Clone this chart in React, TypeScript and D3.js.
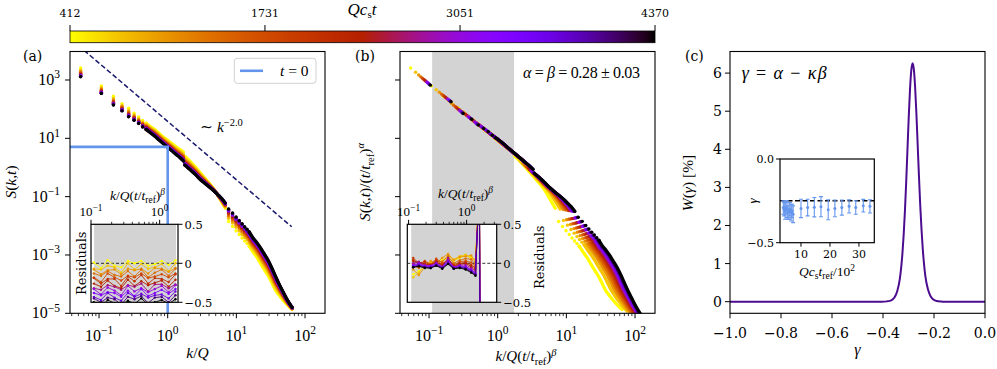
import React from "react";
import * as d3 from "d3";

const SERIF = "'DejaVu Serif', serif";
const MATH = "'Liberation Serif', 'DejaVu Serif', serif";

// ---------------- data ----------------
const times = [412, 742, 1072, 1401, 1731, 2061, 2391, 2721, 3051, 3380, 3710, 4040, 4370];
const colorbarTicks = [412, 1731, 3051, 4370];
const alphaExp = 0.28;
const betaExp = 0.28;
const tRef = 412;

// panel (a): log10 S(k,t) of earliest (yellow) and latest (black) snapshot
const kCols1 = [0.054, 0.108, 0.162, 0.216, 0.27, 0.324, 0.378, 0.432, 0.486];
const logSCols1Early = [3.41, 2.8, 2.44, 2.19, 2.03, 1.86, 1.73, 1.61, 1.52];
const logSCols1Late = [3.11, 2.54, 2.14, 1.94, 1.74, 1.62, 1.51, 1.39, 1.3];

const kBandA = [0.486, 0.54, 0.65, 0.75, 0.87, 1.0, 1.15, 1.3, 1.5, 1.7];
const logSBandAEarly = [1.52, 1.43, 1.3, 1.17, 1.04, 0.93, 0.82, 0.72, 0.62, 0.52];
const logSBandALate = [1.3, 1.22, 1.07, 0.94, 0.81, 0.69, 0.57, 0.46, 0.34, 0.22];

const kCols2 = [1.78, 1.86];
const logSCols2Early = [0.38, 0.34];
const logSCols2Late = [0.08, 0.04];

const kBandB = [1.94, 2.2, 2.5, 2.88, 3.3, 3.8, 4.3, 4.8, 5.3, 5.8, 6.3, 6.9];
const logSBandBEarly = [0.3, 0.17, 0.03, -0.14, -0.3, -0.47, -0.62, -0.77, -0.93, -1.09, -1.24, -1.4];
const logSBandBLate = [0.0, -0.11, -0.23, -0.38, -0.5, -0.62, -0.72, -0.82, -0.92, -1.01, -1.1, -1.22];

const kCols3 = [7.7, 8.8, 9.9, 11.0, 12.1, 13.2, 14.3, 15.4];
const logSCols3Early = [-1.85, -2.02, -2.17, -2.3, -2.42, -2.52, -2.61, -2.7];
const logSCols3Late = [-1.42, -1.56, -1.7, -1.82, -1.93, -2.03, -2.12, -2.21];

const kBandC = [15.4, 17.3, 19.5, 22, 25, 28.5, 32.5, 37, 42, 48, 54, 60, 65];
const logSBandCEarly = [-2.7, -2.88, -3.05, -3.25, -3.47, -3.68, -3.93, -4.2, -4.38, -4.55, -4.69, -4.8, -4.87];
const logSBandCLate = [-2.21, -2.4, -2.55, -2.72, -2.93, -3.15, -3.42, -3.72, -4.0, -4.27, -4.5, -4.68, -4.8];

// t = 0 initial spectrum and k^-2 guide
const t0K = [0.01, 1.0, 1.0];
const t0S = [5.1, 5.1, 1e-7];
const guideK = [0.05, 64];
const guideS = [15200, 0.00928];

// inset (a) residuals
const resXA = [0.11, 0.14, 0.175, 0.22, 0.275, 0.345, 0.43, 0.54, 0.68, 0.85, 1.07, 1.35, 1.7];
const resA = [
  [0.01, -0.06, 0.04, -0.03, -0.05, 0.03, 0.0, 0.03, -0.03, -0.01, 0.03, -0.02, 0.04],
  [-0.07, -0.08, -0.03, -0.05, -0.12, 0.0, -0.08, -0.01, -0.07, -0.05, -0.01, -0.1, 0.0],
  [-0.08, -0.14, -0.09, -0.08, -0.14, -0.07, -0.09, -0.07, -0.13, -0.06, -0.07, -0.11, -0.06],
  [-0.13, -0.16, -0.1, -0.15, -0.17, -0.1, -0.17, -0.08, -0.18, -0.12, -0.08, -0.16, -0.07],
  [-0.18, -0.24, -0.13, -0.18, -0.22, -0.16, -0.18, -0.13, -0.19, -0.17, -0.14, -0.18, -0.13],
  [-0.19, -0.26, -0.2, -0.2, -0.29, -0.17, -0.23, -0.15, -0.26, -0.19, -0.2, -0.24, -0.14],
  [-0.26, -0.3, -0.22, -0.29, -0.32, -0.21, -0.29, -0.23, -0.28, -0.25, -0.22, -0.3, -0.21],
  [-0.32, -0.34, -0.28, -0.3, -0.34, -0.28, -0.3, -0.26, -0.36, -0.27, -0.27, -0.32, -0.27],
  [-0.33, -0.4, -0.31, -0.35, -0.41, -0.29, -0.36, -0.32, -0.37, -0.33, -0.29, -0.37, -0.28],
  [-0.38, -0.41, -0.37, -0.38, -0.43, -0.35, -0.42, -0.33, -0.42, -0.38, -0.34, -0.39, -0.33],
  [-0.43, -0.47, -0.38, -0.44, -0.48, -0.38, -0.43, -0.39, -0.44, -0.41, -0.4, -0.45, -0.36],
  [-0.45, -0.5, -0.44, -0.46, -0.53, -0.43, -0.46, -0.42, -0.51, -0.44, -0.43, -0.5, -0.41],
  [-0.5, -0.56, -0.47, -0.51, -0.54, -0.48, -0.52, -0.45, -0.53, -0.5, -0.47, -0.52, -0.46],
];

// inset (b) residuals
const resXB = [0.12, 0.15, 0.19, 0.24, 0.3, 0.38, 0.48, 0.6, 0.76, 0.96, 1.2, 1.42, 1.66, 1.7];
const resB: (number | null)[][] = [
  [-0.14, -0.1, -0.04, 0.01, -0.02, 0.04, 0.06, 0.03, 0.07, 0.1, 0.08, 0.03, 1.0, -1.0],
  [-0.18, -0.12, -0.02, 0.0, 0.02, 0.03, 0.1, 0.05, 0.09, 0.11, 0.06, 0.05, 1.0, -1.0],
  [-0.08, -0.15, -0.05, 0.03, 0.0, 0.07, 0.12, 0.04, 0.08, 0.09, 0.1, 0.02, 1.0, -1.0],
  [-0.03, -0.06, 0.01, -0.02, 0.03, 0.02, 0.09, 0.0, 0.04, 0.06, 0.05, -0.01, 1.0, -1.0],
  [0.05, -0.02, 0.03, -0.01, 0.06, 0.0, 0.04, -0.02, 0.02, 0.03, 0.01, -0.04, 1.0, -1.0],
  [0.07, 0.0, 0.02, -0.03, 0.04, -0.02, 0.05, -0.03, 0.0, 0.01, -0.02, -0.06, 1.0, -1.0],
  [0.03, 0.01, -0.01, -0.02, 0.02, -0.03, 0.06, -0.04, -0.01, 0.0, -0.04, -0.08, 1.0, -1.0],
  [0.0, 0.02, -0.02, -0.04, 0.01, -0.04, 0.07, -0.05, -0.02, -0.02, -0.06, -0.1, 1.0, -1.0],
  [-0.02, 0.0, -0.03, -0.03, 0.0, -0.05, 0.04, -0.05, -0.03, -0.04, -0.08, -0.12, 1.0, -1.0],
  [-0.03, -0.01, -0.04, -0.04, -0.01, -0.05, 0.02, -0.06, -0.04, -0.05, -0.09, -0.13, 1.0, -1.0],
  [-0.04, -0.02, -0.05, -0.05, -0.02, -0.06, 0.01, -0.06, -0.05, -0.06, -0.1, -0.14, 1.0, -1.0],
  [-0.05, -0.03, -0.05, -0.06, -0.03, -0.06, 0.0, -0.07, -0.05, -0.07, -0.11, -0.15, 1.0, -1.0],
  [-0.05, -0.04, -0.06, -0.06, -0.03, -0.07, -0.01, -0.07, -0.06, -0.08, -0.12, -0.16, null, null],
];
const fitSpan = [0.111, 1.73];

// panel (c): W(gamma) in %
const gammaVals = [-1.0, -0.45, -0.404, -0.384, -0.374, -0.364, -0.354, -0.344, -0.334, -0.329, -0.324, -0.319, -0.314, -0.309, -0.304, -0.299, -0.294, -0.289, -0.284, -0.279, -0.274, -0.269, -0.264, -0.259, -0.254, -0.249, -0.244, -0.239, -0.234, -0.224, -0.214, -0.204, -0.194, -0.184, -0.164, 0.0];
const wVals = [0, 0, 0, 0.008, 0.02, 0.05, 0.12, 0.28, 0.6, 0.88, 1.25, 1.75, 2.38, 3.15, 4.0, 4.85, 5.58, 6.08, 6.26, 6.1, 5.63, 4.93, 4.12, 3.3, 2.53, 1.9, 1.38, 0.98, 0.68, 0.33, 0.15, 0.065, 0.027, 0.01, 0, 0];

// inset (c): gamma vs t_ref
const gRefT = [3.9, 4.2, 4.5, 4.8, 5.2, 5.5, 5.9, 6.2, 6.6, 6.9, 7.3, 10.0, 12.3, 14.6, 16.9, 19.4, 21.7, 24.1, 26.6, 28.9, 31.5, 33.8];
const gMean = [-0.29, -0.3, -0.31, -0.29, -0.3, -0.32, -0.31, -0.3, -0.32, -0.31, -0.33, -0.295, -0.29, -0.288, -0.285, -0.303, -0.295, -0.29, -0.283, -0.29, -0.279, -0.283];
const gErr = [0.04, 0.04, 0.05, 0.04, 0.05, 0.04, 0.05, 0.04, 0.05, 0.04, 0.05, 0.055, 0.05, 0.058, 0.06, 0.06, 0.05, 0.045, 0.04, 0.04, 0.038, 0.04];
const gLine = -0.25;

// ---------------- helpers ----------------
function gnuplotR(f: number) {
  const u = 1 - Math.max(0, Math.min(1, f));
  const r = Math.sqrt(u), g = u * u * u, b = Math.max(0, Math.sin(2 * Math.PI * u));
  return d3.rgb(r * 255, g * 255, b * 255).formatHex();
}
const tMin = colorbarTicks[0];
const tMax = colorbarTicks[colorbarTicks.length - 1];
const colorOf = (t: number) => gnuplotR((t - tMin) / (tMax - tMin));

const minus = (s: string) => s.replace("-", "\u2212");

function pow10(e: number, fs: number) {
  return [
    <tspan key="b">10</tspan>,
    <tspan key="e" dy={-fs * 0.42} fontSize={fs * 0.72}>{e < 0 ? `\u2212${-e}` : `${e}`}</tspan>,
  ];
}

const segments = [
  { k: kCols1, early: logSCols1Early, late: logSCols1Late, mode: "dots" },
  { k: kBandA, early: logSBandAEarly, late: logSBandALate, mode: "line" },
  { k: kCols2, early: logSCols2Early, late: logSCols2Late, mode: "dots" },
  { k: kBandB, early: logSBandBEarly, late: logSBandBLate, mode: "line" },
  { k: kCols3, early: logSCols3Early, late: logSCols3Late, mode: "dots" },
  { k: kBandC, early: logSBandCEarly, late: logSBandCLate, mode: "line" },
];

const series = times.map((t) => ({
  t,
  w: Math.log(t / tRef) / Math.log(tMax / tRef),
  color: colorOf(t),
  kf: Math.pow(t / tRef, betaExp),
  sf: Math.pow(t / tRef, alphaExp),
}));

// ---------------- layout ----------------
const TOP = 51.5, BOTTOM = 313.3;
const AL = 70, AR = 325, BL = 400, BR = 655, CL = 730, CR = 985;
const IA = { l: 91, r: 178, t: 224.3, b: 302.3 };
const IB = { l: 407.3, r: 496.7, t: 224.3, b: 302.3 };
const IC = { l: 780, r: 874.3, t: 159, b: 242.7 };

export default function App() {
  const xDom = [Math.pow(10, -1.423), Math.pow(10, 2.291)];
  const xa = d3.scaleLog().domain(xDom).range([AL, AR]);
  const xb = d3.scaleLog().domain(xDom).range([BL, BR]);
  const yS = d3.scaleLog().domain([1e-5, Math.pow(10, 3.977)]).range([BOTTOM, TOP]);
  const xc = d3.scaleLinear().domain([-1, 0]).range([CL, CR]);
  const yc = d3.scaleLinear().domain([-0.305, 6.567]).range([BOTTOM, TOP]);

  const xia = d3.scaleLog().domain([0.1, 1.85]).range([IA.l, IA.r]);
  const xib = d3.scaleLog().domain([0.095, 3.3]).range([IB.l, IB.r]);
  const yiR = d3.scaleLinear().domain([-0.5, 0.5]).range([IA.b, IA.t]);
  const xic = d3.scaleLinear().domain([2.76, 35.3]).range([IC.l, IC.r]);
  const yic = d3.scaleLinear().domain([-0.5, 0]).range([IC.b, IC.t]);

  const dataPanel = (xs: any, scaled: boolean, pfx: string) =>
    series.map((s, i) => (
      <g key={`${pfx}${i}`}>
        {segments.map((seg, si) => {
          const pts = seg.k.map((k, j) => {
            const logS = (1 - s.w) * seg.early[j] + s.w * seg.late[j];
            const S = Math.pow(10, logS);
            return scaled ? [k * s.kf, S / s.sf] : [k, S];
          });
          if (seg.mode === "dots") {
            return (
              <g key={si}>
                {pts.map((p, j) => (
                  <circle key={j} cx={xs(p[0])} cy={yS(p[1])} r={1.7} fill={s.color} />
                ))}
              </g>
            );
          }
          const ln = d3.line<number[]>().x((p) => xs(p[0])).y((p) => yS(p[1])).curve(d3.curveMonotoneX);
          return <path key={si} d={ln(pts) || ""} stroke={s.color} strokeWidth={3.2} fill="none" strokeLinecap="round" />;
        })}
      </g>
    ));

  // log axis ticks
  const majorX = [-1, 0, 1, 2];
  const minorX: number[] = [];
  [-2, -1, 0, 1].forEach((e) => {
    for (let m = 2; m <= 9; m++) {
      const v = m * Math.pow(10, e);
      if (v >= xDom[0] && v <= xDom[1]) minorX.push(v);
    }
  });
  const majorY = [-5, -3, -1, 1, 3];

  const bottomLogAxis = (xs: any, pfx: string) => (
    <g key={pfx}>
      {minorX.map((v, i) => (
        <line key={`m${i}`} x1={xs(v)} x2={xs(v)} y1={BOTTOM} y2={BOTTOM + 2.8} stroke="#000" strokeWidth={0.8} />
      ))}
      {majorX.map((e) => (
        <g key={e}>
          <line x1={xs(Math.pow(10, e))} x2={xs(Math.pow(10, e))} y1={BOTTOM} y2={BOTTOM + 5} stroke="#000" strokeWidth={1} />
          <text x={xs(Math.pow(10, e))} y={340.5} textAnchor="middle" fontFamily={MATH} fontSize={16}>
            {pow10(e, 16)}
          </text>
        </g>
      ))}
    </g>
  );

  const leftLogAxis = (x0: number, labels: boolean, pfx: string) => (
    <g key={pfx}>
      {majorY.map((e) => (
        <g key={e}>
          <line x1={x0 - 5} x2={x0} y1={yS(Math.pow(10, e))} y2={yS(Math.pow(10, e))} stroke="#000" strokeWidth={1} />
          {labels && (
            <text x={x0 - 10} y={yS(Math.pow(10, e)) + 5} textAnchor="end" fontFamily={MATH} fontSize={16}>
              {pow10(e, 16)}
            </text>
          )}
        </g>
      ))}
    </g>
  );

  const insetTopAxis = (xs: any, ytop: number, pfx: string) => {
    const [d0, d1] = xs.domain();
    const minors: number[] = [];
    [-1, 0].forEach((e) => {
      for (let m = 2; m <= 9; m++) {
        const v = m * Math.pow(10, e);
        if (v >= d0 && v <= d1) minors.push(v);
      }
    });
    return (
      <g key={pfx}>
        {minors.map((v, i) => (
          <line key={i} x1={xs(v)} x2={xs(v)} y1={ytop} y2={ytop - 2.5} stroke="#000" strokeWidth={0.8} />
        ))}
        {[-1, 0].map((e) => (
          <g key={e}>
            <line x1={xs(Math.pow(10, e))} x2={xs(Math.pow(10, e))} y1={ytop} y2={ytop - 4.5} stroke="#000" strokeWidth={1} />
            <text x={xs(Math.pow(10, e))} y={ytop - 8} textAnchor="middle" fontFamily={MATH} fontSize={13}>
              {pow10(e, 13)}
            </text>
          </g>
        ))}
      </g>
    );
  };

  const insetRightAxis = (r: number, pfx: string) => (
    <g key={pfx}>
      {[0.5, 0, -0.5].map((v) => (
        <g key={v}>
          <line x1={r} x2={r + 4.5} y1={yiR(v)} y2={yiR(v)} stroke="#000" strokeWidth={1} />
          <text x={r + 6.5} y={yiR(v) + 4.2} fontFamily={SERIF} fontSize={11.5}>
            {v === 0 ? "0" : minus(String(v))}
          </text>
        </g>
      ))}
    </g>
  );

  const refLabel = (fs: number) => [
    <tspan key="1" fontStyle="italic">k</tspan>,
    <tspan key="2">/</tspan>,
    <tspan key="3" fontStyle="italic">Q</tspan>,
    <tspan key="4">(</tspan>,
    <tspan key="5" fontStyle="italic">t</tspan>,
    <tspan key="6">/</tspan>,
    <tspan key="7" fontStyle="italic">t</tspan>,
    <tspan key="8" dy={fs * 0.25} fontSize={fs * 0.7}>ref</tspan>,
    <tspan key="9" dy={-fs * 0.25}>)</tspan>,
    <tspan key="10" dy={-fs * 0.36} fontSize={fs * 0.7} fontStyle="italic">β</tspan>,
  ];

  const residualLines = (xs: any, xsVals: number[], rows: (number | null)[][], pfx: string) =>
    rows.map((row, i) => {
      const pts = xsVals.map((x, j) => [x, row[j]]).filter((p) => p[1] !== null) as number[][];
      const ln = d3.line<number[]>().x((p) => xs(p[0])).y((p) => yiR(p[1]));
      return (
        <g key={`${pfx}${i}`}>
          <path d={ln(pts) || ""} stroke={series[i].color} strokeWidth={0.9} fill="none" />
          {pts.map((p, j) => (
            <circle key={j} cx={xs(p[0])} cy={yiR(p[1])} r={1.2} fill={series[i].color} />
          ))}
        </g>
      );
    });

  const curveC = d3
    .line<number>()
    .x((_, i) => xc(gammaVals[i]))
    .y((w) => yc(w))
    .curve(d3.curveMonotoneX);

  const cbScale = d3.scaleLinear().domain([tMin, tMax]).range([AL, BR]);
  const gradStops = d3.range(0, 61).map((i) => i / 60);

  return (
    <svg width={997} height={369} style={{ position: "absolute", left: 0, top: 0, background: "#fff" }} fontFamily={SERIF}>
      <defs>
        <linearGradient id="cbGrad" x1="0" x2="1" y1="0" y2="0">
          {gradStops.map((f, i) => (
            <stop key={i} offset={f} stopColor={gnuplotR(f)} />
          ))}
        </linearGradient>
        <clipPath id="clipA"><rect x={AL} y={TOP} width={AR - AL} height={BOTTOM - TOP} /></clipPath>
        <clipPath id="clipB"><rect x={BL} y={TOP} width={BR - BL} height={BOTTOM - TOP} /></clipPath>
        <clipPath id="clipC"><rect x={CL} y={TOP} width={CR - CL} height={BOTTOM - TOP} /></clipPath>
        <clipPath id="clipIA"><rect x={IA.l} y={IA.t} width={IA.r - IA.l} height={IA.b - IA.t} /></clipPath>
        <clipPath id="clipIB"><rect x={IB.l} y={IB.t} width={IB.r - IB.l} height={IB.b - IB.t} /></clipPath>
        <clipPath id="clipIC"><rect x={IC.l} y={IC.t} width={IC.r - IC.l} height={IC.b - IC.t} /></clipPath>
      </defs>
      <rect x={0} y={0} width={997} height={369} fill="#fff" />

      {/* colorbar */}
      <rect x={AL} y={31} width={BR - AL} height={11.7} fill="url(#cbGrad)" stroke="#000" strokeWidth={0.8} />
      {colorbarTicks.map((t) => (
        <g key={t}>
          <line x1={cbScale(t)} x2={cbScale(t)} y1={31} y2={25} stroke="#000" strokeWidth={1} />
          <text x={cbScale(t)} y={16.7} textAnchor="middle" fontSize={11}>{t}</text>
        </g>
      ))}
      <text x={362} y={15} textAnchor="middle" fontFamily={MATH} fontSize={17}>
        <tspan fontStyle="italic">Qc</tspan>
        <tspan dy={3} fontSize={11}>s</tspan>
        <tspan dy={-3} fontStyle="italic">t</tspan>
      </text>

      {/* ---------- panel (a) ---------- */}
      <g clipPath="url(#clipA)">
        {dataPanel(xa, false, "a")}
        <path
          d={d3.line<number>().x((k) => xa(k)).y((_, i) => yS(guideS[i]))(guideK) || ""}
          stroke="#1a1a6e" strokeWidth={1.5} strokeDasharray="5,2.5" fill="none"
        />
        <path
          d={d3.line<number>().x((k) => xa(k)).y((_, i) => yS(t0S[i]))(t0K) || ""}
          stroke="#6495ed" strokeWidth={2.6} fill="none"
        />
      </g>
      <rect x={AL} y={TOP} width={AR - AL} height={BOTTOM - TOP} fill="none" stroke="#000" strokeWidth={1.1} />
      <rect x={234.3} y={58.3} width={81.7} height={25} rx={3} fill="#fff" fillOpacity={0.85} stroke="#d0d0d0" strokeWidth={1} />
      <line x1={240} x2={263} y1={70.8} y2={70.8} stroke="#6495ed" strokeWidth={2.6} />
      <text x={280} y={76} fontFamily={MATH} fontSize={15.5}>
        <tspan fontStyle="italic">t</tspan> = 0
      </text>
      <text x={200} y={132} fontFamily={MATH} fontSize={15.5}>
        ∼ <tspan fontStyle="italic">k</tspan>
        <tspan dy={-6} fontSize={10.5}>−2.0</tspan>
      </text>
      {bottomLogAxis(xa, "ax")}
      {leftLogAxis(AL, true, "ay")}
      <text x={23} y={61} fontSize={14}>(a)</text>
      <text transform="translate(16,182) rotate(-90)" textAnchor="middle" fontFamily={MATH} fontSize={15.5}>
        <tspan fontStyle="italic">S</tspan>(<tspan fontStyle="italic">k</tspan>,<tspan fontStyle="italic">t</tspan>)
      </text>
      <text x={197.5} y={358} textAnchor="middle" fontFamily={MATH} fontSize={15.5}>
        <tspan fontStyle="italic">k</tspan>/<tspan fontStyle="italic">Q</tspan>
      </text>

      {/* inset (a) */}
      <rect x={IA.l} y={IA.t} width={IA.r - IA.l} height={IA.b - IA.t} fill="#fff" />
      <g clipPath="url(#clipIA)">
        <rect x={xia(fitSpan[0])} y={IA.t} width={xia(fitSpan[1]) - xia(fitSpan[0])} height={IA.b - IA.t} fill="#d3d3d3" />
        <line x1={IA.l} x2={IA.r} y1={yiR(0)} y2={yiR(0)} stroke="#000" strokeWidth={0.8} strokeDasharray="3,2" />
        {residualLines(xia, resXA, resA, "ra")}
      </g>
      <rect x={IA.l} y={IA.t} width={IA.r - IA.l} height={IA.b - IA.t} fill="none" stroke="#000" strokeWidth={1.2} />
      {insetTopAxis(xia, IA.t, "iat")}
      {insetRightAxis(IA.r, "iar")}
      <text x={137.5} y={200} textAnchor="middle" fontFamily={MATH} fontSize={13.5}>{refLabel(13.5)}</text>
      <text transform={`translate(86,${(IA.t + IA.b) / 2}) rotate(-90)`} textAnchor="middle" fontSize={13}>Residuals</text>

      {/* ---------- panel (b) ---------- */}
      <rect x={xb(fitSpan[0])} y={TOP} width={xb(fitSpan[1]) - xb(fitSpan[0])} height={BOTTOM - TOP} fill="#d3d3d3" />
      <g clipPath="url(#clipB)">{dataPanel(xb, true, "b")}</g>
      <rect x={BL} y={TOP} width={BR - BL} height={BOTTOM - TOP} fill="none" stroke="#000" strokeWidth={1.1} />
      <text x={523} y={78} fontFamily={MATH} fontSize={16} textLength={117} lengthAdjust="spacing">
        <tspan fontStyle="italic">α</tspan> = <tspan fontStyle="italic">β</tspan> = 0.28 ± 0.03
      </text>
      {bottomLogAxis(xb, "bx")}
      {leftLogAxis(BL, false, "by")}
      <text x={355} y={61} fontSize={14}>(b)</text>
      <text transform="translate(370,182) rotate(-90)" textAnchor="middle" fontFamily={MATH} fontSize={15.5}>
        <tspan fontStyle="italic">S</tspan>(<tspan fontStyle="italic">k</tspan>,<tspan fontStyle="italic">t</tspan>)/(
        <tspan fontStyle="italic">t</tspan>/<tspan fontStyle="italic">t</tspan>
        <tspan dy={4} fontSize={10.5}>ref</tspan>
        <tspan dy={-4}>)</tspan>
        <tspan dy={-6} fontSize={10.5} fontStyle="italic">α</tspan>
      </text>
      <text x={526} y={361} textAnchor="middle" fontFamily={MATH} fontSize={15}>{refLabel(15)}</text>

      {/* inset (b) */}
      <rect x={IB.l} y={IB.t} width={IB.r - IB.l} height={IB.b - IB.t} fill="#fff" />
      <g clipPath="url(#clipIB)">
        <rect x={xib(fitSpan[0])} y={IB.t} width={xib(fitSpan[1]) - xib(fitSpan[0])} height={IB.b - IB.t} fill="#d3d3d3" />
        <line x1={IB.l} x2={IB.r} y1={yiR(0)} y2={yiR(0)} stroke="#000" strokeWidth={0.8} strokeDasharray="3,2" />
        {residualLines(xib, resXB, resB, "rb")}
      </g>
      <rect x={IB.l} y={IB.t} width={IB.r - IB.l} height={IB.b - IB.t} fill="none" stroke="#000" strokeWidth={1.2} />
      {insetTopAxis(xib, IB.t, "ibt")}
      {insetRightAxis(IB.r, "ibr")}
      <text x={465.5} y={198} textAnchor="middle" fontFamily={MATH} fontSize={13.5}>{refLabel(13.5)}</text>
      <text transform={`translate(544,${(IB.t + IB.b) / 2 - 6}) rotate(-90)`} textAnchor="middle" fontSize={13}>Residuals</text>

      {/* ---------- panel (c) ---------- */}
      <g clipPath="url(#clipC)">
        <path d={curveC(wVals) || ""} stroke="#4b0c8f" strokeWidth={2} fill="none" />
      </g>
      <rect x={CL} y={TOP} width={CR - CL} height={BOTTOM - TOP} fill="none" stroke="#000" strokeWidth={1.1} />
      {[-1, -0.8, -0.6, -0.4, -0.2, 0].map((v) => (
        <g key={v}>
          <line x1={xc(v)} x2={xc(v)} y1={BOTTOM} y2={BOTTOM + 5} stroke="#000" strokeWidth={1} />
          <text x={xc(v)} y={338} textAnchor="middle" fontSize={14}>{minus(d3.format(".1f")(v))}</text>
        </g>
      ))}
      {[0, 1, 2, 3, 4, 5, 6].map((v) => (
        <g key={v}>
          <line x1={CL - 5} x2={CL} y1={yc(v)} y2={yc(v)} stroke="#000" strokeWidth={1} />
          <text x={CL - 8} y={yc(v) + 5} textAnchor="end" fontSize={14}>{v}</text>
        </g>
      ))}
      <text x={685} y={61} fontSize={14}>(c)</text>
      <text x={741.7} y={79} fontFamily={MATH} fontSize={18} textLength={85} lengthAdjust="spacing">
        <tspan fontStyle="italic">γ</tspan> = <tspan fontStyle="italic">α</tspan> − <tspan fontStyle="italic">κβ</tspan>
      </text>
      <text transform="translate(693,183) rotate(-90)" textAnchor="middle" fontFamily={MATH} fontSize={15.5}>
        <tspan fontStyle="italic">W</tspan>(<tspan fontStyle="italic">γ</tspan>) [%]
      </text>
      <text x={857.5} y={355} textAnchor="middle" fontFamily={MATH} fontSize={16} fontStyle="italic">γ</text>

      {/* inset (c) */}
      <rect x={IC.l} y={IC.t} width={IC.r - IC.l} height={IC.b - IC.t} fill="#fff" />
      <g clipPath="url(#clipIC)">
        <line x1={IC.l} x2={IC.r} y1={yic(gLine)} y2={yic(gLine)} stroke="#000" strokeWidth={1.5} strokeDasharray="5,2.5" />
        {gRefT.map((x, i) => (
          <g key={i} stroke="#6495ed" strokeWidth={1.1}>
            <line x1={xic(x)} x2={xic(x)} y1={yic(gMean[i] - gErr[i])} y2={yic(gMean[i] + gErr[i])} />
            <line x1={xic(x) - 2} x2={xic(x) + 2} y1={yic(gMean[i] - gErr[i])} y2={yic(gMean[i] - gErr[i])} />
            <line x1={xic(x) - 2} x2={xic(x) + 2} y1={yic(gMean[i] + gErr[i])} y2={yic(gMean[i] + gErr[i])} />
            <circle cx={xic(x)} cy={yic(gMean[i])} r={1.5} fill="#6495ed" stroke="none" />
          </g>
        ))}
      </g>
      <rect x={IC.l} y={IC.t} width={IC.r - IC.l} height={IC.b - IC.t} fill="none" stroke="#000" strokeWidth={1.2} />
      {[0, -0.5].map((v) => (
        <g key={v}>
          <line x1={IC.l - 4} x2={IC.l} y1={yic(v)} y2={yic(v)} stroke="#000" strokeWidth={1} />
          <text x={IC.l - 6} y={yic(v) + 4} textAnchor="end" fontSize={11}>{minus(d3.format(".1f")(v))}</text>
        </g>
      ))}
      {[10, 20, 30].map((v) => (
        <g key={v}>
          <line x1={xic(v)} x2={xic(v)} y1={IC.b} y2={IC.b + 4} stroke="#000" strokeWidth={1} />
          <text x={xic(v)} y={IC.b + 15} textAnchor="middle" fontSize={11}>{v}</text>
        </g>
      ))}
      <text x={827} y={276} textAnchor="middle" fontFamily={MATH} fontSize={13.5}>
        <tspan fontStyle="italic">Qc</tspan>
        <tspan dy={3} fontSize={9.5}>s</tspan>
        <tspan dy={-3} fontStyle="italic">t</tspan>
        <tspan dy={3} fontSize={9.5}>ref</tspan>
        <tspan dy={-3}>/10</tspan>
        <tspan dy={-5} fontSize={9.5}>2</tspan>
      </text>
      <text transform="translate(757,201) rotate(-90)" textAnchor="middle" fontFamily={MATH} fontSize={13} fontStyle="italic">γ</text>
    </svg>
  );
}
